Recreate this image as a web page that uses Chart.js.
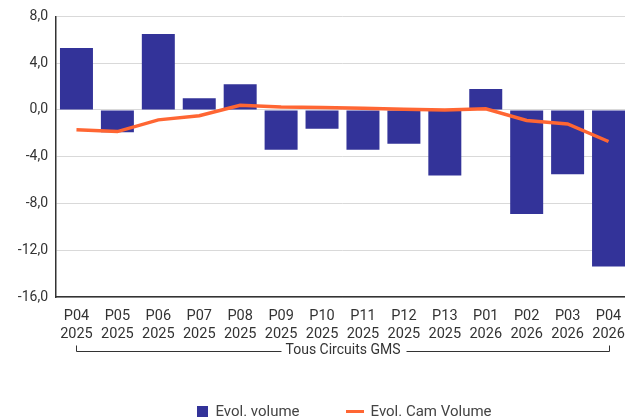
<!DOCTYPE html>
<html>
<head>
<meta charset="utf-8">
<script src="https://cdn.jsdelivr.net/npm/chart.js@4"></script>
<style>
  html, body { margin: 0; padding: 0; background: #fff; overflow: hidden; }
  #wrap { position: relative; width: 625px; height: 420px; overflow: hidden; }
  #chart { position: absolute; left: 0; top: 0; }
  #legend {
    position: absolute; left: 56px; width: 577px; top: 403px; height: 16px;
    display: flex; justify-content: center; align-items: center;
    font: 15px Roboto, 'Noto Sans', sans-serif; color: #444;
  }
  #legend .item { display: flex; align-items: center; margin: 0 23px; white-space: nowrap; }
  #legend .swatch { margin-right: 7px; }
</style>
</head>
<body>
<div id="wrap">
  <canvas id="chart" width="629" height="420"></canvas>
  <div id="legend"></div>
</div>
<script>
  const periods = ["P04", "P05", "P06", "P07", "P08", "P09", "P10", "P11", "P12", "P13", "P01", "P02", "P03", "P04"];
  const years = ["2025", "2025", "2025", "2025", "2025", "2025", "2025", "2025", "2025", "2025", "2026", "2026", "2026", "2026"];
  const evolVolume = [5.3, -1.9, 6.5, 1.0, 2.2, -3.4, -1.6, -3.4, -2.9, -5.6, 1.8, -8.9, -5.5, -13.4];
  const evolCamVolume = [-1.7, -1.85, -0.85, -0.5, 0.4, 0.25, 0.2, 0.15, 0.05, 0.0, 0.1, -0.9, -1.2, -2.7];
  const yTicks = [8, 4, 0, -4, -8, -12, -16];
  const groupLabel = "Tous Circuits GMS";

  const BLUE = "#333399";
  const ORANGE = "#ff6633";
  const TEXT = "#333333";
  const FONT = "Roboto, 'Noto Sans', sans-serif";

  const labels = periods.map((p, i) => [p, years[i]]);

  // bracket + group title under the x labels
  const bracket = {
    id: "bracket",
    afterDraw(chart) {
      const x = chart.scales.x;
      const ctx = chart.ctx;
      const x1 = Math.round(x.getPixelForValue(0)) + 0.5;
      const x2 = Math.round(x.getPixelForValue(labels.length - 1)) + 0.5;
      const mid = (x1 + x2) / 2;
      const y = x.top + 54.5;
      ctx.save();
      ctx.font = "14px " + FONT;
      const tw = ctx.measureText(groupLabel).width;
      ctx.fillStyle = TEXT;
      ctx.textAlign = "center";
      ctx.textBaseline = "middle";
      ctx.fillText(groupLabel, mid, y - 1);
      ctx.strokeStyle = TEXT;
      ctx.lineWidth = 1;
      ctx.beginPath();
      ctx.moveTo(x1, y - 6);
      ctx.lineTo(x1, y);
      ctx.lineTo(mid - tw / 2 - 4, y);
      ctx.moveTo(mid + tw / 2 + 6, y);
      ctx.lineTo(x2, y);
      ctx.lineTo(x2, y - 6);
      ctx.stroke();
      ctx.restore();
    }
  };

  const chart = new Chart(document.getElementById("chart"), {
    type: "bar",
    data: {
      labels,
      datasets: [{
        type: "bar",
        label: "Evol. volume",
        data: evolVolume,
        backgroundColor: BLUE,
        categoryPercentage: 1,
        barPercentage: 0.806,
        order: 1
      }, {
        type: "line",
        label: "Evol. Cam Volume",
        data: evolCamVolume,
        borderColor: ORANGE,
        backgroundColor: ORANGE,
        borderWidth: 3.5,
        pointRadius: 0,
        tension: 0,
        order: 0
      }]
    },
    options: {
      responsive: false,
      animation: false,
      layout: { padding: { top: 10, right: 0, left: 0, bottom: 0 } },
      plugins: {
        tooltip: { enabled: false },
        legend: { display: false }
      },
      scales: {
        x: {
          // grid hidden, but the tick length still pushes the labels down
          grid: { display: false, drawTicks: true, tickLength: 8 },
          border: { color: TEXT, width: 1.5 },
          afterFit(scale) { scale.height = 123; },
          ticks: { color: TEXT, font: { family: FONT, size: 14.5 }, padding: 3, maxRotation: 0, autoSkip: false }
        },
        y: {
          min: -16,
          max: 8,
          grid: { color: "#d9d9d9", lineWidth: 1, drawTicks: false },
          border: { color: TEXT, width: 1.5 },
          afterFit(scale) { scale.width = 56; },
          afterBuildTicks(scale) { scale.ticks = yTicks.map(v => ({ value: v })); },
          ticks: {
            color: TEXT,
            font: { family: FONT, size: 14 },
            padding: 8,
            callback: v => v.toFixed(1).replace(".", ",")
          }
        }
      }
    },
    plugins: [bracket]
  });

  // html legend built from the datasets
  const legend = document.getElementById("legend");
  chart.data.datasets.forEach(ds => {
    const item = document.createElement("div");
    item.className = "item";
    const sw = document.createElement("span");
    sw.className = "swatch";
    sw.style.background = ds.type === "line" ? ds.borderColor : ds.backgroundColor;
    sw.style.width = ds.type === "line" ? "18px" : "11px";
    sw.style.height = ds.type === "line" ? "3px" : "11px";
    const txt = document.createElement("span");
    txt.textContent = ds.label;
    item.appendChild(sw);
    item.appendChild(txt);
    legend.appendChild(item);
  });
</script>
</body>
</html>
